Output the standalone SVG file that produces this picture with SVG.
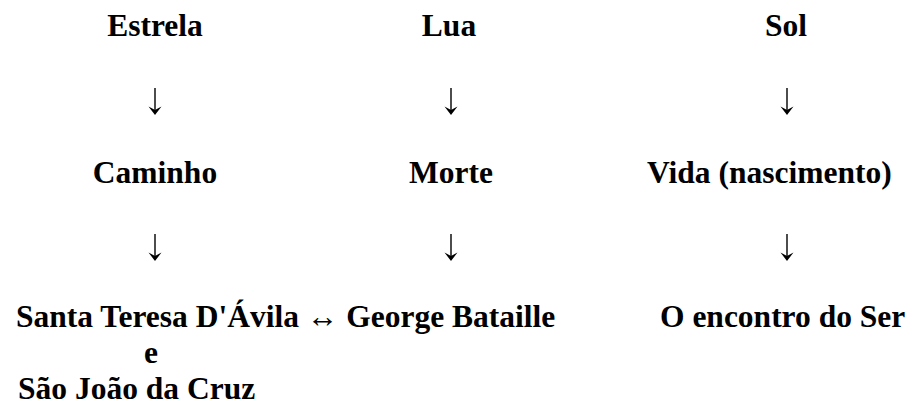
<svg xmlns="http://www.w3.org/2000/svg" width="911" height="406" viewBox="0 0 911 406">
<style>
text{font-size:31.5px;font-weight:bold;fill:#000;}
.c{text-anchor:middle;}
.stem{stroke:#000;stroke-width:1.4;fill:none;}
.head{fill:#000;stroke:none;}
</style>
<defs>
<g id="arrowDown">
<line class="stem" x1="0" y1="0" x2="0" y2="25"/>
<path class="head" d="M0,27 L-6.5,18.5 L0,22 L6.5,18.5 Z"/>
</g>
</defs>
<rect width="911" height="406" fill="#fff"/>
<g id="estrela"><text class="c" x="155" y="36" font-family="Liberation Serif">Estrela</text></g>
<g id="lua"><text class="c" x="449" y="36" font-family="Liberation Serif">Lua</text></g>
<g id="sol"><text class="c" x="786" y="36" font-family="Liberation Serif">Sol</text></g>
<g id="caminho"><text class="c" x="155" y="183" font-family="Liberation Serif">Caminho</text></g>
<g id="morte"><text class="c" x="451" y="183" font-family="Liberation Serif">Morte</text></g>
<g id="vida"><text x="647" y="183" font-family="Liberation Serif">Vida (nascimento)</text></g>
<g id="santos"><text x="16" y="327" font-family="Liberation Serif">Santa Teresa D'Ávila ↔ George Bataille</text><text class="c" x="151" y="363" font-family="Liberation Serif">e</text><text x="18" y="399" font-family="Liberation Serif">São João da Cruz</text></g>
<g id="encontro"><text x="660" y="327" font-family="Liberation Serif">O encontro do Ser</text></g>
<g id="connectors">
<use href="#arrowDown" x="155" y="88"/>
<use href="#arrowDown" x="451" y="88"/>
<use href="#arrowDown" x="787" y="88"/>
<use href="#arrowDown" x="155" y="234"/>
<use href="#arrowDown" x="451" y="234"/>
<use href="#arrowDown" x="787" y="234"/>
</g>
</svg>
